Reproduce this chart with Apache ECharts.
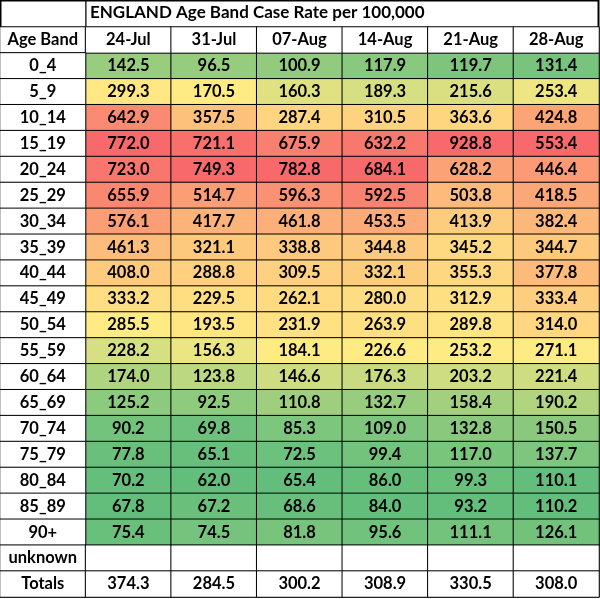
<!DOCTYPE html>
<html><head><meta charset="utf-8">
<script src="https://cdn.jsdelivr.net/npm/echarts@6/dist/echarts.min.js"></script>
<style>html,body{margin:0;background:#fff}#chart{width:600px;height:599px}</style>
</head><body><div id="chart"></div>
<script>
const TITLE = "ENGLAND Age Band Case Rate per 100,000";
const weeks = ["24-Jul", "31-Jul", "07-Aug", "14-Aug", "21-Aug", "28-Aug"];
const ageBands = ["0_4","5_9","10_14","15_19","20_24","25_29","30_34","35_39","40_44","45_49","50_54","55_59","60_64","65_69","70_74","75_79","80_84","85_89","90+"];
const jul24 = [142.5,299.3,642.9,772.0,723.0,655.9,576.1,461.3,408.0,333.2,285.5,228.2,174.0,125.2,90.2,77.8,70.2,67.8,75.4];
const jul31 = [96.5,170.5,357.5,721.1,749.3,514.7,417.7,321.1,288.8,229.5,193.5,156.3,123.8,92.5,69.8,65.1,62.0,67.2,74.5];
const aug07 = [100.9,160.3,287.4,675.9,782.8,596.3,461.8,338.8,309.5,262.1,231.9,184.1,146.6,110.8,85.3,72.5,65.4,68.6,81.8];
const aug14 = [117.9,189.3,310.5,632.2,684.1,592.5,453.5,344.8,332.1,280.0,263.9,226.6,176.3,132.7,109.0,99.4,86.0,84.0,95.6];
const aug21 = [119.7,215.6,363.6,928.8,628.2,503.8,413.9,345.2,355.3,312.9,289.8,253.2,203.2,158.4,132.8,117.0,99.3,93.2,111.1];
const aug28 = [131.4,253.4,424.8,553.4,446.4,418.5,382.4,344.7,377.8,333.4,314.0,271.1,221.4,190.2,150.5,137.7,110.1,110.2,126.1];
const totals = [374.3,284.5,300.2,308.9,330.5,308.0];
const columns = [jul24, jul31, aug07, aug14, aug21, aug28];

const FONT = "Lato";
const rows = ["Age Band", ...ageBands, "unknown", "Totals"];

function mix(a, b, t) {
  return a.map((v, i) => Math.round(v + (b[i] - v) * t));
}
function scaleColor(v, col) {
  const s = [...col].sort((a, b) => a - b);
  const mn = s[0], mx = s[s.length - 1], md = s[Math.floor(s.length / 2)];
  const g = [99,190,123], y = [255,235,132], r = [248,105,107];
  const c = v <= md ? mix(g, y, (v - mn) / (md - mn)) : mix(y, r, (v - md) / (mx - md));
  return `rgb(${c.join(",")})`;
}

const colored = [];
columns.forEach((col, x) => col.forEach((v, i) => {
  colored.push({ value: [x + 1, i + 1, v], itemStyle: { color: scaleColor(v, col) } });
}));
const plain = [];
plain.push({ value: [0, 0, 0], name: "Age Band" });
weeks.forEach((w, x) => plain.push({ value: [x + 1, 0, 0], name: w }));
ageBands.forEach((a, i) => plain.push({ value: [0, i + 1, 0], name: a }));
plain.push({ value: [0, 20, 0], name: "unknown" });
weeks.forEach((w, x) => plain.push({ value: [x + 1, 20, 0], name: "" }));
plain.push({ value: [0, 21, 0], name: "Totals" });
totals.forEach((t, x) => plain.push({ value: [x + 1, 21, 0], name: t.toFixed(1) }));

const chart = echarts.init(document.getElementById("chart"));
const label = { show: true, fontFamily: FONT, fontWeight: "bold", fontSize: 16.5, color: "#000" };
chart.setOption({
  animation: false,
  grid: { left: 0, right: 1, top: 27, bottom: 2 },
  xAxis: { type: "category", data: ["", ...weeks], show: false },
  yAxis: { type: "category", data: rows, inverse: true, show: false },
  series: [
    {
      type: "heatmap", data: colored,
      itemStyle: { borderColor: "#000", borderWidth: 1 },
      label: { ...label, formatter: p => p.value[2].toFixed(1) }
    },
    {
      type: "heatmap", data: plain,
      itemStyle: { color: "#fff", borderColor: "#000", borderWidth: 1 },
      label: { ...label, formatter: p => p.name }
    }
  ],
  graphic: [
    { type: "rect", shape: { x: 0.5, y: 0.5, width: 85.5, height: 27 }, style: { fill: "#fff", stroke: "#000", lineWidth: 1 } },
    { type: "rect", shape: { x: 86, y: 0.5, width: 512.5, height: 27 }, style: { fill: "#fff", stroke: "#000", lineWidth: 1 } },
    { type: "text", left: 90, top: 4, style: { text: TITLE, font: `bold 17px ${FONT}`, fill: "#000" } },
    { type: "rect", shape: { x: 0.5, y: 0.5, width: 598, height: 596 }, style: { fill: "none", stroke: "#000", lineWidth: 2 } }
  ]
});
</script></body></html>
